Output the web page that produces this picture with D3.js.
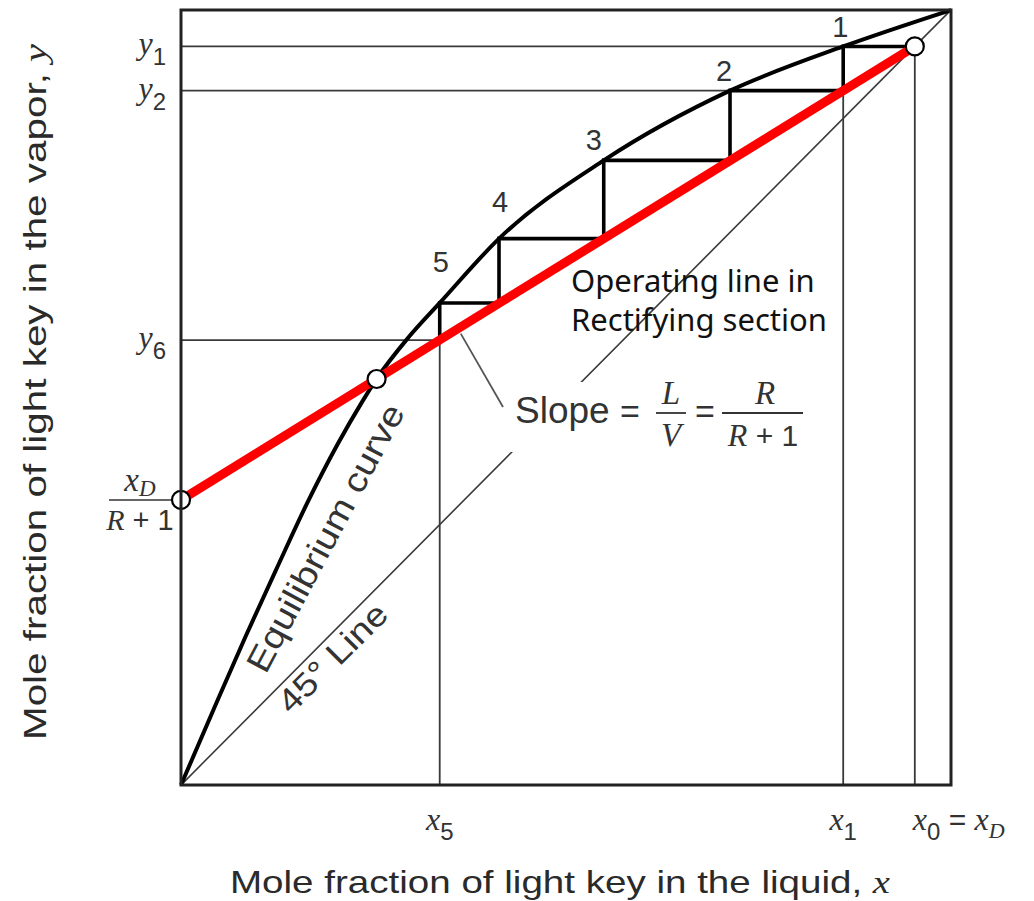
<!DOCTYPE html>
<html>
<head>
<meta charset="utf-8">
<script src="https://cdn.jsdelivr.net/npm/d3@7"></script>
<style>
  body { margin: 0; background: #fff; }
  svg { display: block; }
</style>
</head>
<body>
<svg id="chart" width="1034" height="901"></svg>
<script>
// McCabe-Thiele stage construction, rectifying section

// Equilibrium curve (x, y mole fractions of the light key)
const eqX = [0, 0.043, 0.084, 0.125, 0.164, 0.203, 0.235, 0.254, 0.295, 0.336, 0.413, 0.549, 0.713, 0.860, 1];
const eqY = [0, 0.099, 0.192, 0.281, 0.364, 0.439, 0.494, 0.524, 0.577, 0.622, 0.705, 0.806, 0.896, 0.953, 1];

// Distillate composition and reflux ratio
const xD = 0.953;
const R = 1.59;

// Stage compositions: x1..x5 leaving each stage, y1..y6 vapour
const stageX = [0.860, 0.713, 0.549, 0.413, 0.336];
const stageY = [0.953, 0.896, 0.806, 0.705, 0.622, 0.574];
const stageNames = ["1", "2", "3", "4", "5"];

// Intersection of operating line and equilibrium curve
const pinchX = 0.254;

// Which y levels get a guide line and a label
const yTicks = [{ i: 0, sub: "1" }, { i: 1, sub: "2" }, { i: 5, sub: "6" }];

const svg = d3.select("#chart");
const box = { left: 181, top: 10, right: 951, bottom: 785 };
const x = d3.scaleLinear().domain([0, 1]).range([box.left, box.right]);
const y = d3.scaleLinear().domain([0, 1]).range([box.bottom, box.top]);

const intercept = xD / (R + 1);
const slope = R / (R + 1);
const opY = v => intercept + slope * v;

const INK = "#222";
const THIN = "#3a3a3a";
const SANS = "'Liberation Sans', Arial, Helvetica, sans-serif";
const SERIF = "'Liberation Serif', 'Times New Roman', serif";

const line = d3.line().x(d => x(d[0])).y(d => y(d[1]));

function seg(g, p, q, w, c) {
  g.append("path").attr("d", line([p, q]))
    .attr("stroke", c).attr("stroke-width", w).attr("fill", "none")
    .attr("stroke-linecap", "square");
}

// ---- thin guide lines ----
const guides = svg.append("g");
seg(guides, [0, stageY[0]], [stageX[0], stageY[0]], 1.8, THIN);          // y1
seg(guides, [0, stageY[1]], [stageX[1], stageY[1]], 1.8, THIN);          // y2
seg(guides, [0, stageY[5]], [stageX[4], stageY[5]], 1.8, THIN);          // y6
seg(guides, [stageX[0], 0], [stageX[0], stageY[1]], 1.8, THIN);          // x1
seg(guides, [stageX[4], 0], [stageX[4], stageY[5]], 1.8, THIN);          // x5
seg(guides, [xD, 0], [xD, xD], 1.8, THIN);                               // x0 = xD

// 45 degree line
seg(guides, [0, 0], [1, 1], 1.6, THIN);

// white panel behind the slope annotation
svg.append("rect").attr("x", 508).attr("y", 382).attr("width", 304).attr("height", 70)
  .attr("fill", "#fff");

// leader from operating line to the slope annotation
const lx = 0.362;
svg.append("line")
  .attr("x1", x(lx) + 1).attr("y1", y(opY(lx)) + 6)
  .attr("x2", 503).attr("y2", 407)
  .attr("stroke", "#555").attr("stroke-width", 1.8);

// ---- equilibrium curve ----
svg.append("path")
  .datum(eqX.map((v, i) => [v, eqY[i]]))
  .attr("d", d3.line().x(d => x(d[0])).y(d => y(d[1])).curve(d3.curveMonotoneX))
  .attr("fill", "none").attr("stroke", "#000").attr("stroke-width", 4);

// ---- stage steps ----
const steps = svg.append("g");
stageX.forEach((sx, i) => {
  const fromX = i === 0 ? xD : stageX[i - 1];
  seg(steps, [fromX, stageY[i]], [sx, stageY[i]], 3.6, "#000");
  seg(steps, [sx, stageY[i]], [sx, stageY[i + 1]], 3.6, "#000");
});

// ---- operating line ----
svg.append("path")
  .attr("d", line([[0, opY(0)], [xD, opY(xD)]]))
  .attr("stroke", "#ff0000").attr("stroke-width", 9).attr("fill", "none");

// marker circles
svg.selectAll("circle.pt")
  .data([[0, opY(0)], [pinchX, opY(pinchX)], [xD, opY(xD)]])
  .join("circle").attr("class", "pt")
  .attr("cx", d => x(d[0])).attr("cy", d => y(d[1])).attr("r", 9)
  .attr("fill", "#fff").attr("stroke", "#000").attr("stroke-width", 2.2);

// frame
svg.append("rect")
  .attr("x", box.left).attr("y", box.top)
  .attr("width", box.right - box.left).attr("height", box.bottom - box.top)
  .attr("fill", "none").attr("stroke", INK).attr("stroke-width", 3);

// ---- text helpers ----
function mathText(parent, px, py, parts, anchor) {
  const t = parent.append("text").attr("x", px).attr("y", py)
    .attr("text-anchor", anchor || "start").attr("fill", "#333");
  let shift = 0;
  parts.forEach(p => {
    const s = t.append("tspan").text(p.t)
      .attr("font-family", p.serif ? SERIF : SANS)
      .attr("font-style", p.italic ? "italic" : "normal")
      .attr("font-size", p.size);
    const target = p.dy || 0;
    if (target !== shift) { s.attr("dy", target - shift); shift = target; }
  });
  return t;
}

// stage numbers
const stageOffsets = [[-3, -9], [-6, -10], [-10, -10], [1, -27], [1, -31]];
stageX.forEach((sx, i) => {
  svg.append("text")
    .attr("x", x(sx) + stageOffsets[i][0]).attr("y", y(stageY[i]) + stageOffsets[i][1])
    .attr("text-anchor", "middle").attr("font-family", SANS).attr("font-size", 29)
    .attr("fill", "#333").text(stageNames[i]);
});

// y labels
yTicks.forEach(tk => {
  mathText(svg, 166, y(stageY[tk.i]) + 8, [
    { t: "y", serif: true, italic: true, size: 32 },
    { t: tk.sub, size: 24, dy: 11 }
  ], "end");
});

// intercept label xD / (R + 1)
mathText(svg, 140, 491, [
  { t: "x", serif: true, italic: true, size: 33 },
  { t: "D", serif: true, italic: true, size: 23, dy: 5 }
], "middle");
svg.append("line").attr("x1", 109).attr("x2", 171).attr("y1", 500).attr("y2", 500)
  .attr("stroke", "#333").attr("stroke-width", 1.6);
mathText(svg, 140, 530, [
  { t: "R", serif: true, italic: true, size: 30 },
  { t: " + 1", size: 29 }
], "middle");

// x labels
mathText(svg, x(stageX[4]), 830, [
  { t: "x", serif: true, italic: true, size: 32 },
  { t: "5", size: 24, dy: 10 }
], "middle");
mathText(svg, x(stageX[0]), 830, [
  { t: "x", serif: true, italic: true, size: 32 },
  { t: "1", size: 24, dy: 10 }
], "middle");
mathText(svg, x(xD) - 2, 830, [
  { t: "x", serif: true, italic: true, size: 32 },
  { t: "0", size: 24, dy: 10 },
  { t: " = ", size: 30, dy: 0 },
  { t: "x", serif: true, italic: true, size: 32 },
  { t: "D", serif: true, italic: true, size: 22, dy: 8 }
], "start");

// operating line caption
const cap = svg.append("text").attr("font-family", "'Noto Sans', 'Open Sans', sans-serif")
  .attr("font-size", 31).attr("fill", "#111");
cap.append("tspan").attr("x", 571).attr("y", 292).text("Operating line in");
cap.append("tspan").attr("x", 571).attr("y", 331).text("Rectifying section");

// slope annotation
const sl = svg.append("g").attr("fill", "#333");
sl.append("text").attr("x", 515).attr("y", 423).attr("font-family", SANS).attr("font-size", 37).text("Slope");
sl.append("text").attr("x", 620).attr("y", 423).attr("font-family", SANS).attr("font-size", 34).text("=");
sl.append("text").attr("x", 671).attr("y", 404).attr("text-anchor", "middle")
  .attr("font-family", SERIF).attr("font-style", "italic").attr("font-size", 33).text("L");
sl.append("line").attr("x1", 656).attr("x2", 686).attr("y1", 413).attr("y2", 413)
  .attr("stroke", "#333").attr("stroke-width", 1.8);
sl.append("text").attr("x", 671).attr("y", 446).attr("text-anchor", "middle")
  .attr("font-family", SERIF).attr("font-style", "italic").attr("font-size", 33).text("V");
sl.append("text").attr("x", 695).attr("y", 423).attr("font-family", SANS).attr("font-size", 34).text("=");
sl.append("text").attr("x", 765).attr("y", 404).attr("text-anchor", "middle")
  .attr("font-family", SERIF).attr("font-style", "italic").attr("font-size", 33).text("R");
sl.append("line").attr("x1", 722).attr("x2", 803).attr("y1", 413).attr("y2", 413)
  .attr("stroke", "#333").attr("stroke-width", 1.8);
mathText(sl, 763, 446, [
  { t: "R", serif: true, italic: true, size: 32 },
  { t: " + 1", size: 30 }
], "middle");

// curve labels
svg.append("text")
  .attr("transform", `translate(${x(0.110)},${y(0.142)}) rotate(-62)`)
  .attr("font-family", SANS).attr("font-size", 34).attr("fill", "#333")
  .attr("textLength", 298).attr("lengthAdjust", "spacingAndGlyphs")
  .text("Equilibrium curve");
svg.append("text")
  .attr("transform", `translate(${x(0.143)},${y(0.090)}) rotate(-45)`)
  .attr("font-family", SANS).attr("font-size", 33).attr("fill", "#333")
  .attr("textLength", 140).attr("lengthAdjust", "spacingAndGlyphs")
  .text("45° Line");

// axis titles
const xt = svg.append("text").attr("x", 560).attr("y", 893).attr("text-anchor", "middle")
  .attr("font-family", SANS).attr("font-size", 32).attr("fill", "#2a2a2a")
  .attr("textLength", 660).attr("lengthAdjust", "spacingAndGlyphs");
xt.append("tspan").text("Mole fraction of light key in the liquid, ");
xt.append("tspan").attr("font-family", SERIF).attr("font-style", "italic").text("x");

const yt = svg.append("text").attr("transform", "translate(46,392) rotate(-90)")
  .attr("text-anchor", "middle")
  .attr("font-family", SANS).attr("font-size", 32).attr("fill", "#2a2a2a")
  .attr("textLength", 696).attr("lengthAdjust", "spacingAndGlyphs");
yt.append("tspan").text("Mole fraction of light key in the vapor, ");
yt.append("tspan").attr("font-family", SERIF).attr("font-style", "italic").text("y");
</script>
</body>
</html>
